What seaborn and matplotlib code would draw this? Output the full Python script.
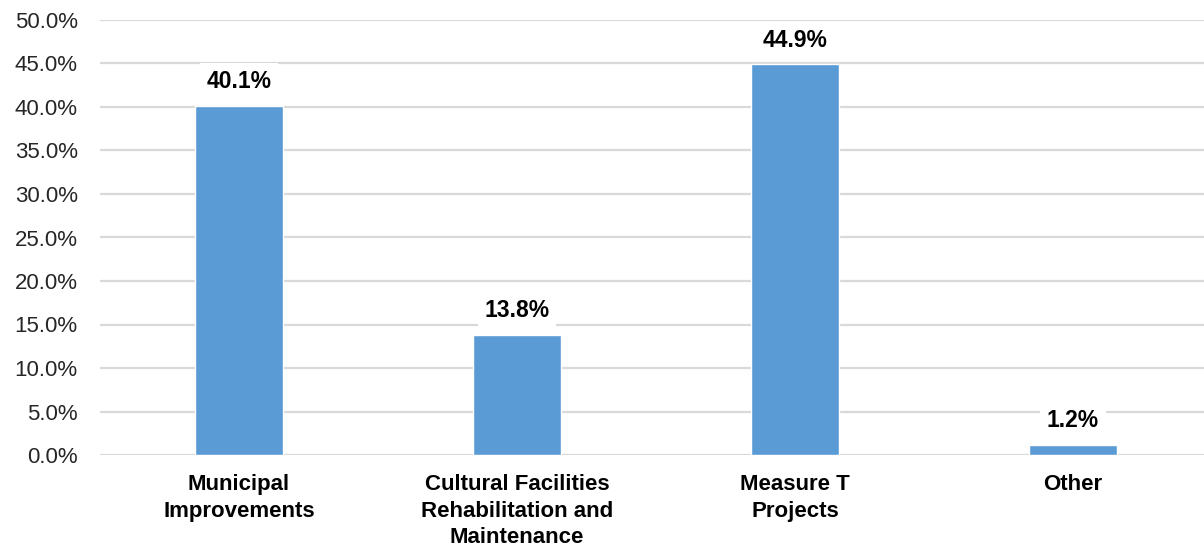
import pandas as pd
import matplotlib.pyplot as plt
import seaborn as sns

# Chart values
categories = ['Municipal\nImprovements', 'Cultural Facilities\nRehabilitation and\nMaintenance',
              'Measure T\nProjects', 'Other']
shares = [40.1, 13.8, 44.9, 1.2]
yticks = [0, 5, 10, 15, 20, 25, 30, 35, 40, 45, 50]

df = pd.DataFrame({'category': categories, 'share': shares})

sns.set_style('white')
plt.rcParams['font.family'] = ['Liberation Sans', 'DejaVu Sans']

fig = plt.figure(figsize=(12.04, 5.48), dpi=100)
# plot area runs a little past the right edge of the image
ax = fig.add_axes([100 / 1204, 1 - 455 / 548, 1112 / 1204, 435 / 548])

sns.barplot(x='category', y='share', data=df, color='#5B9BD5', width=0.313,
            saturation=1, ax=ax, zorder=2)

ax.set_ylim(0, 50)
ax.set_yticks(yticks)
ax.set_yticklabels([f'{v:.1f}%' for v in yticks], fontsize=16, color='#262626')
ax.yaxis.grid(True, color='#D9D9D9', linewidth=1.6, zorder=0)
ax.set_axisbelow(True)
ax.tick_params(axis='y', length=0, pad=16)
ax.tick_params(axis='x', length=0, pad=14)
for lbl in ax.get_xticklabels():
    lbl.set_fontweight('bold')
    lbl.set_fontsize(16)
    lbl.set_color('black')
    lbl.set_linespacing(1.32)
ax.set_xlabel('')
ax.set_ylabel('')
for s in ax.spines.values():
    s.set_visible(False)

for i, v in enumerate(shares):
    ax.annotate(f'{v:.1f}%', (i, v), xytext=(0, 17.5), textcoords='offset points',
                ha='center', va='center', fontsize=16.5, fontweight='bold', zorder=3,
                color='black',
                bbox=dict(boxstyle='square,pad=0.3', facecolor='white', edgecolor='none'))

plt.savefig('out.png', dpi=100)
plt.close()
